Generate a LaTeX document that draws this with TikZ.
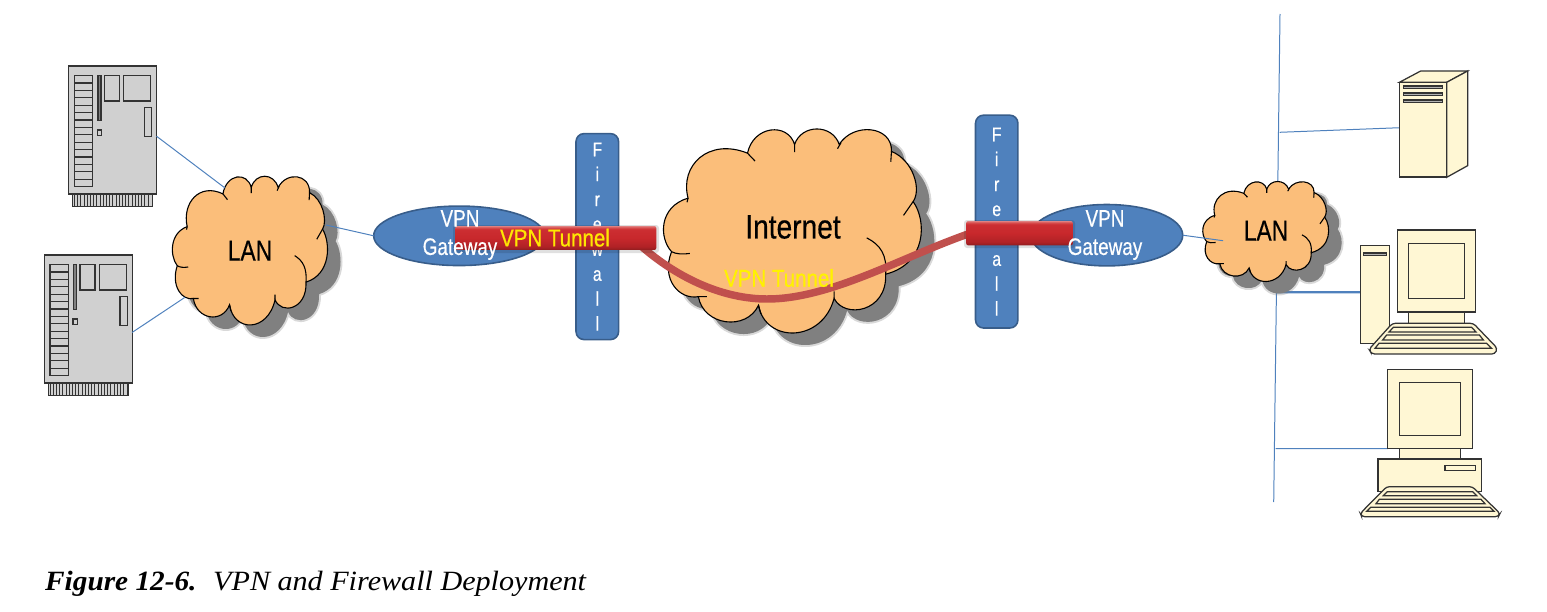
\documentclass[tikz,border=0pt]{standalone}
\usepackage{fontspec}
\setmainfont{Liberation Sans}
\newfontfamily\figfont[FakeStretch=0.79,FakeBold=0.4]{Liberation Sans}
\newfontfamily\inetfont[FakeStretch=0.83,FakeBold=0.5]{Liberation Sans}
\newfontfamily\tunfont[FakeStretch=0.84,FakeBold=0.6]{Liberation Sans}
\newfontfamily\capfont[FakeStretch=1.08]{Liberation Serif}
\newfontfamily\capboldfont[FakeStretch=1.05]{Liberation Serif}
\usetikzlibrary{backgrounds,shapes.geometric}
\definecolor{linkblue}{HTML}{4F81BD}
\definecolor{blueedge}{HTML}{385D8A}
\definecolor{cloudfill}{HTML}{FBBE7A}
\definecolor{cream}{HTML}{FFF7D4}
\definecolor{boxgray}{HTML}{D0D0D0}
\definecolor{edgegray}{HTML}{333333}
\definecolor{tubeline}{HTML}{C0504D}
\definecolor{tubeA}{HTML}{8E1C1E}
\definecolor{tubeB}{HTML}{B02226}
\definecolor{tubeC}{HTML}{C8282C}
\definecolor{tubeD}{HTML}{CC2E32}
\definecolor{tubeE}{HTML}{D85050}
\definecolor{tubeF}{HTML}{E08080}
\pgfdeclareverticalshading{tubeshade}{100bp}{%
  color(0bp)=(tubeA); color(25bp)=(tubeA); color(32bp)=(tubeB);
  color(50bp)=(tubeC); color(68bp)=(tubeD); color(72bp)=(tubeE);
  color(75bp)=(tubeF); color(100bp)=(tubeF)}
\tikzset{
  link/.style={draw=linkblue,line width=1},
  wall/.style={draw=blueedge,fill=linkblue,line width=1.6,rounded corners=8,inner sep=0,outer sep=0,text=white,align=center,font=\figfont\fontsize{20}{25}\selectfont},
  gateway/.style={ellipse,draw=blueedge,fill=linkblue,line width=1.6,inner sep=0,outer sep=0},
  gwtext/.style={text=white,align=center,inner sep=0,font=\figfont\fontsize{24}{28.5}\selectfont},
  cloudtext/.style={text=black,inner sep=0,font=\figfont\fontsize{29}{32}\selectfont},
  tube/.style={rounded corners=2,inner sep=0,outer sep=0,shade,shading=tubeshade},
  tunneltext/.style={inner sep=0,font=\tunfont\fontsize{24.5}{28}\selectfont},
  hw/.style={draw=edgegray,line width=1.25,line join=miter},
  cloudline/.style={draw=black,line width=1.1},
}
\newcommand\cloudshape{(110,285) .. controls (85,190) and (170,110) .. (283,155)
 .. controls (300,75) and (400,65) .. (420,130)
 .. controls (440,70) and (530,70) .. (550,130)
 .. controls (590,65) and (705,75) .. (702,150)
 .. controls (765,175) and (790,260) .. (765,295)
 .. controls (805,350) and (805,475) .. (685,505)
 .. controls (690,615) and (565,635) .. (535,575)
 .. controls (500,705) and (335,705) .. (315,595)
 .. controls (280,670) and (155,655) .. (140,570)
 .. controls (85,580) and (30,520) .. (62,440)
 .. controls (25,400) and (25,310) .. (110,285) -- cycle}
\newcommand\cloudmark[4]{%
 \begin{scope}[shift={(#1+13,#2+12)},xscale=#3/745,yscale=#4/590,shift={(-40,-88)}]
  \fill[black!50,draw=black!50,line width=4,opacity=.3] \cloudshape;
  \fill[black!50] \cloudshape;
 \end{scope}
 \begin{scope}[shift={(#1,#2)},xscale=#3/745,yscale=#4/590,shift={(-40,-88)}]
  \path[fill=cloudfill,cloudline] \cloudshape;
  \draw[cloudline] (283,155) -- (305,178) (420,130) -- (420,152) (555,125) -- (545,142)
   (702,150) -- (700,180) (765,295) -- (737,335)
   (685,505) .. controls (690,450) and (670,420) .. (630,400)
   (535,575) -- (535,555) (315,595) -- (322,620) (140,570) -- (165,570)
   (62,440) .. controls (75,447) and (95,448) .. (115,445)
   (110,285) -- (107,297);
 \end{scope}}
\newcommand\graybox[3]{%
 % #1 name, #2 #3 zoom-unit offsets
 \node[hw,fill=boxgray,inner sep=0,outer sep=0,minimum width=88.3,minimum height=128.7] (#1) at ({30+(247.5+#2)/3},{50+(240+#3)/3}) {};
 \begin{scope}[shift={(30,50)},scale=1/3,shift={(#2,#3)}]
  \draw[hw,fill=boxgray] (128,433) rectangle (367,470);
  \foreach \i in {0,...,23} \draw[edgegray,line width=.8] ({133+\i*9.6},433) -- ({133+\i*9.6},470);
  \draw[hw,fill=boxgray] (133,77) rectangle (188,410);
  \foreach \i in {1,...,14} \draw[edgegray,line width=1.25] (133,{77+\i*22.2}) -- (188,{77+\i*22.2});
  \draw[hw,fill=gray] (204,77) rectangle (213,212);
  \draw[hw] (223,77) rectangle (268,153);
  \draw[hw] (281,77) rectangle (362,153);
  \draw[hw] (202,240) rectangle (215,257);
  \draw[hw] (343,173) rectangle (365,260);
 \end{scope}}
\begin{document}
\begin{tikzpicture}[x=1bp,y=-1bp]
\useasboundingbox (0,0) rectangle (1547,612);
% clouds and their ports
\cloudmark{172.7}{177}{154}{148.7}
\cloudmark{664}{130}{256}{204}
\cloudmark{1203}{182}{125}{100}
\coordinate (lan1a) at (225,188);
\coordinate (lan1b) at (185,297.3);
\coordinate (lan1c) at (326,225);
\coordinate (lan2a) at (1223,240.7);
\coordinate (busT) at (1280,14);
\coordinate (busB) at (1273.7,502);
\coordinate (tapA) at (1279.6,132.3);
\coordinate (tapB) at (1276.7,292.3);
\coordinate (tapC) at (1275.5,448.7);
\node[cloudtext] (lan1) at (250,250.7) {LAN};
\node[cloudtext] (lan2) at (1266,230.7) {LAN};
\node[cloudtext,font=\inetfont\fontsize{34}{38}\selectfont] (inet) at (793,227) {Internet};
% servers
\graybox{srvA}{0}{0}
\graybox{srvB}{-73}{567}
% gateways and firewalls
\node[gateway,minimum width=171.7,minimum height=59.7] (gwA) at (459.2,235.8) {};
\node[gateway,minimum width=152.4,minimum height=61.6] (gwB) at (1106.8,235.2) {};
\node[wall,minimum width=42.7,minimum height=206.7] (fwA) at (597.3,236.6) {F\\i\\r\\e\\w\\a\\l\\l};
\node[wall,minimum width=42.5,minimum height=213.6] (fwB) at (996.7,221.6) {F\\i\\r\\e\\w\\a\\l\\l};
% tunnel
\draw[tubeline,line width=7.5] (641,246) .. controls (680,280) and (725,299) .. (767,299)
  .. controls (830,299) and (900,258) .. (968,234);
\fill[black,opacity=.12,rounded corners=3] (453,225) rectangle (659,253);
\fill[black,opacity=.12,rounded corners=3] (964,220) rectangle (1075,248);
\node[tube,minimum width=201.7,minimum height=24] (tubeA) at (555.8,238) {};
\node[tube,minimum width=107,minimum height=24.4] (tubeB) at (1019.5,233.2) {};
\node[gwtext] (gwAt) at (460,235) {VPN\\Gateway};
\node[gwtext] (gwBt) at (1105,235) {VPN\\Gateway};
\node[tunneltext,text=yellow!90!orange] (tunA) at (555,237.7) {VPN Tunnel};
\node[tunneltext,text=yellow] (tunB) at (779,278) {VPN Tunnel};
% desktops and tower
\node[hw,fill=cream,inner sep=0,outer sep=0,minimum width=47.4,minimum height=95] (tower) at (1423,129.8) {};
\begin{scope}[shift={(1190,0)},scale=1/3]
  \draw[hw,fill=cream] (628,247) -- (692,213) -- (833,213) -- (770,247) -- cycle;
  \draw[hw,fill=cream] (770,247) -- (833,213) -- (833,497) -- (770,532) -- cycle;
  \foreach \y in {258,279,300} \draw[hw,fill=gray!60] (640,\y) rectangle (757,\y+8);
\end{scope}
\node[hw,fill=cream,inner sep=0,outer sep=0,minimum width=29.3,minimum height=98.3] (pcA) at (1374.7,294.5) {};
\begin{scope}[shift={(1190,0)},scale=1/3]
  \draw[hw,fill=gray!60] (521,759) rectangle (589,767);
  \draw[hw,fill=cream] (656,936) rectangle (824,972);
  \draw[hw,fill=cream] (622,690) rectangle (857,936);
  \draw[hw,fill=cream] (655,730) rectangle (824,896);
  \draw[hw,fill=cream,rounded corners=3] (607,970) -- (850,970) -- (922,1045) -- (915,1062) -- (545,1062) -- (537,1048) -- cycle;
  \draw[hw,fill=cream] (610,982) -- (845,982) -- (858,996) -- (597,996) -- cycle;
  \draw[hw,fill=cream] (590,1005) -- (868,1005) -- (880,1020) -- (578,1020) -- cycle;
  \draw[hw,fill=cream] (567,1030) -- (890,1030) -- (905,1045) -- (555,1045) -- cycle;
\end{scope}
\node[hw,fill=cream,inner sep=0,outer sep=0,minimum width=84.7,minimum height=79.3] (pcB) at (1430,409) {};
\begin{scope}[shift={(1250,350)},scale=1/3]
  \draw[hw,fill=cream] (448,97) rectangle (632,257);
  \draw[hw,fill=cream] (448,296) rectangle (632,327);
  \draw[hw,fill=cream] (384,327) rectangle (695,425);
  \draw[hw,fill=cream] (585,347) rectangle (677,361);
  \draw[hw,fill=cream,rounded corners=3] (410,410) -- (667,410) -- (750,490) -- (745,500) -- (335,500) -- (331,490) -- cycle;
  \draw[hw,fill=cream] (412,425) -- (668,425) -- (680,437) -- (400,437) -- cycle;
  \draw[hw,fill=cream] (388,448) -- (693,448) -- (705,461) -- (378,461) -- cycle;
  \draw[hw,fill=cream] (362,472) -- (720,472) -- (732,484) -- (350,484) -- cycle;
\end{scope}
% connectors
\begin{scope}[on background layer]
  \draw[link] (busT) -- (busB);
  \draw[link] (tapA) -- (tower.175);
  \draw[link,line width=2.2] (tapB) -- (pcA.171.5);
  \draw[link] (tapC) -- (pcB.south west);
\end{scope}
\draw[link] (srvA.-8.6) -- (lan1a);
\draw[link] (srvB.-17) -- (lan1b);
\draw[link] (lan1c) -- (gwA.west);
\draw[link] (gwB.east) -- (lan2a);
% caption
\node[anchor=base west,inner sep=0,font=\capboldfont\bfseries\itshape\fontsize{28}{32}\selectfont] (capA) at (45,590) {Figure 12-6.};
\node[anchor=base west,inner sep=0,font=\capfont\itshape\fontsize{28}{32}\selectfont] (capB) at (213,590) {VPN and Firewall Deployment};
\end{tikzpicture}
\end{document}
